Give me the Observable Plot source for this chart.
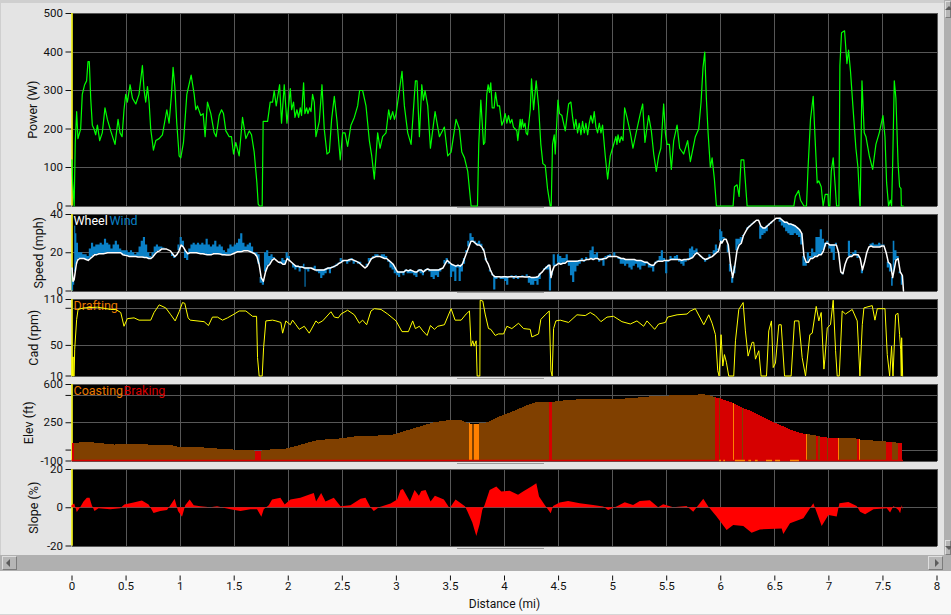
<!DOCTYPE html>
<html>
<head>
<meta charset="utf-8">
<script src="https://cdn.jsdelivr.net/npm/d3@7"></script>
<script src="https://cdn.jsdelivr.net/npm/@observablehq/plot@0.6"></script>
<style>
html,body{margin:0;padding:0;background:#f8f8f8;overflow:hidden}
#page{position:relative;width:951px;height:615px;overflow:hidden;background:#f8f8f8}
#page>div{position:absolute}
#page svg{position:absolute;left:0;top:0;overflow:visible;background:transparent}
.btn{box-sizing:border-box;border:1px solid;border-color:#dedede #7c7c7c #7c7c7c #dedede}
.tri{position:absolute;width:0;height:0;border:4px solid transparent}
</style>
</head>
<body>
<div id="page"></div>
<script>
// mile, watts
const power=[[0,120],[.006,60],[.02,0],[.03,165],[.043,245],[.055,175],[.08,200],[.095,290],[.117,315],[.135,325],[.148,375],[.16,375],[.173,280],[.188,210],[.204,200],[.219,185],[.235,210],[.256,170],[.28,190],[.305,255],[.327,225],[.358,195],[.398,160],[.426,225],[.444,190],[.463,180],[.481,250],[.497,290],[.512,270],[.537,315],[.559,280],[.59,265],[.62,290],[.651,365],[.667,300],[.682,270],[.698,310],[.713,270],[.728,200],[.753,145],[.775,170],[.806,175],[.836,185],[.877,250],[.898,215],[.92,290],[.935,360],[.951,310],[.969,215],[.991,130],[1.006,125],[1.031,165],[1.062,290],[1.102,340],[1.13,290],[1.145,250],[1.16,260],[1.191,235],[1.213,240],[1.231,180],[1.253,270],[1.284,240],[1.315,190],[1.333,180],[1.361,235],[1.383,250],[1.401,240],[1.423,195],[1.454,180],[1.475,180],[1.494,135],[1.515,165],[1.546,130],[1.577,230],[1.608,175],[1.639,195],[1.66,185],[1.685,140],[1.71,60],[1.722,5],[1.735,0],[1.759,0],[1.768,220],[1.809,220],[1.833,270],[1.855,270],[1.87,300],[1.889,260],[1.92,315],[1.938,215],[1.963,315],[1.988,215],[2.019,305],[2.031,250],[2.049,270],[2.062,230],[2.08,250],[2.096,230],[2.111,255],[2.123,235],[2.142,320],[2.154,240],[2.17,255],[2.182,240],[2.198,255],[2.21,245],[2.225,290],[2.241,270],[2.256,180],[2.287,220],[2.312,315],[2.333,200],[2.358,135],[2.38,140],[2.401,225],[2.426,285],[2.451,220],[2.481,120],[2.503,190],[2.525,190],[2.549,155],[2.58,210],[2.611,230],[2.642,260],[2.66,300],[2.688,300],[2.719,260],[2.75,170],[2.772,130],[2.796,70],[2.827,190],[2.849,150],[2.873,180],[2.904,190],[2.929,250],[2.945,225],[2.966,245],[2.982,225],[2.997,240],[3.028,300],[3.052,350],[3.074,260],[3.105,190],[3.136,160],[3.176,325],[3.191,325],[3.213,180],[3.235,315],[3.25,275],[3.265,300],[3.29,260],[3.315,150],[3.358,245],[3.398,180],[3.444,205],[3.475,130],[3.506,140],[3.552,225],[3.583,200],[3.605,140],[3.63,125],[3.66,90],[3.691,0],[3.75,0],[3.762,160],[3.781,275],[3.793,220],[3.806,160],[3.818,165],[3.836,290],[3.849,315],[3.861,295],[3.873,320],[3.886,255],[3.904,255],[3.917,295],[3.935,260],[3.954,260],[3.975,210],[3.99,220],[4.006,240],[4.022,215],[4.037,235],[4.052,215],[4.068,225],[4.083,205],[4.099,200],[4.114,195],[4.123,170],[4.145,225],[4.154,200],[4.164,225],[4.176,205],[4.19,215],[4.2,190],[4.213,185],[4.238,250],[4.25,330],[4.269,250],[4.293,325],[4.315,260],[4.336,160],[4.355,110],[4.377,105],[4.398,45],[4.423,0],[4.432,0],[4.444,160],[4.46,185],[4.469,135],[4.494,275],[4.509,240],[4.531,235],[4.562,195],[4.593,265],[4.614,270],[4.63,230],[4.645,200],[4.66,225],[4.676,190],[4.691,215],[4.707,185],[4.722,220],[4.738,190],[4.753,215],[4.769,185],[4.784,215],[4.799,235],[4.815,215],[4.83,245],[4.846,205],[4.861,190],[4.877,215],[4.892,190],[4.907,210],[4.932,130],[4.954,70],[4.978,130],[5.015,165],[5.03,180],[5.04,160],[5.05,185],[5.065,165],[5.08,180],[5.096,170],[5.111,255],[5.133,230],[5.164,190],[5.188,150],[5.225,200],[5.256,240],[5.278,265],[5.299,165],[5.333,235],[5.358,195],[5.38,135],[5.404,90],[5.426,130],[5.446,150],[5.472,265],[5.488,190],[5.503,160],[5.525,160],[5.543,95],[5.565,170],[5.596,210],[5.62,150],[5.657,135],[5.694,170],[5.719,115],[5.765,180],[5.796,200],[5.818,270],[5.836,360],[5.852,400],[5.867,280],[5.883,190],[5.904,100],[5.92,125],[5.941,70],[5.96,0],[6.114,0],[6.127,50],[6.151,55],[6.17,25],[6.188,120],[6.213,120],[6.244,0],[6.676,0],[6.69,25],[6.72,40],[6.738,15],[6.769,0],[6.793,0],[6.806,90],[6.83,225],[6.855,285],[6.87,190],[6.892,60],[6.907,65],[6.929,50],[6.947,0],[6.966,30],[6.991,30],[6.997,0],[7.009,0],[7.022,90],[7.04,125],[7.059,50],[7.071,0],[7.093,0],[7.102,365],[7.117,450],[7.145,455],[7.167,370],[7.182,405],[7.2,350],[7.222,260],[7.25,150],[7.269,100],[7.287,0],[7.29,0],[7.306,325],[7.327,190],[7.343,180],[7.374,130],[7.405,95],[7.435,160],[7.466,190],[7.5,235],[7.519,180],[7.534,60],[7.552,0],[7.568,15],[7.58,0],[7.59,110],[7.605,325],[7.62,280],[7.64,110],[7.654,50],[7.667,45],[7.67,0],[7.688,0]];
// mile, wheel mph, wind mph
const speed=[[0,12,0],[.01,5,0],[.02,6,3],[.03,10,34],[.04,14,30],[.05,16,25],[.07,17,20],[.09,17,20],[.11,17,19],[.13,16.5,19],[.15,16,18],[.17,17,22],[.19,18,25],[.21,19,23],[.23,19,24],[.25,19.5,24],[.27,19.5,25],[.29,19.5,24],[.31,19.7,27],[.33,20,25],[.35,20,24],[.37,20,22],[.39,20,24],[.41,20,26],[.43,20,24],[.45,20,22],[.47,19,21],[.49,18.7,21],[.51,18.5,21],[.53,18,20],[.55,18,21],[.57,18,20],[.59,18,19],[.61,17.8,20],[.63,17.8,23],[.65,17.8,26],[.67,17.5,28],[.69,17.5,24],[.71,17,20],[.73,17,18],[.75,18,20],[.77,19.5,23],[.79,20.5,24],[.81,21,23],[.83,22,23],[.85,22,22.5],[.87,22,22],[.89,21.5,21.5],[.91,21,21],[.93,19.5,18],[.95,18,17],[.97,19,19],[.99,21,24],[1.01,24,28],[1.03,23,26],[1.05,21,17],[1.07,19.5,16],[1.09,20,22],[1.11,20,24],[1.13,20,25],[1.15,20,24],[1.17,19.7,25],[1.19,19.5,24],[1.21,19.5,25],[1.23,19.2,24],[1.25,19,27],[1.27,19,24],[1.29,19,23],[1.31,19.5,24],[1.33,19.5,26],[1.35,19.5,23],[1.37,19.3,24],[1.39,19,23],[1.41,19,21],[1.43,18.8,20],[1.45,18.8,22],[1.47,19,24],[1.49,19.5,23],[1.51,20,24],[1.53,20.5,25],[1.55,20.5,27],[1.57,20.7,30],[1.59,21,25],[1.61,21,23],[1.63,21,24],[1.65,20.5,25],[1.67,20,23],[1.69,19.5,20],[1.71,18,20],[1.73,14,19],[1.75,7,4],[1.77,5,3],[1.79,10,20],[1.81,13,21],[1.83,14,18],[1.85,16,19],[1.87,17,17.5],[1.89,16,16],[1.91,15,15],[1.93,15,14],[1.95,14,17],[1.97,14,16],[1.99,17,20],[2.01,16,18],[2.03,15,15],[2.05,14,12],[2.07,13,11],[2.09,13,12],[2.11,12.5,10],[2.13,12.5,12],[2.15,12,14],[2.16,12,2],[2.17,12,11],[2.19,12,10],[2.21,12,12],[2.23,11.5,12],[2.25,11,13],[2.27,11,10],[2.29,11,9],[2.31,11,6.5],[2.33,11,8],[2.35,11.5,9],[2.37,12,11],[2.39,12,9],[2.41,12.5,12],[2.43,13,12],[2.45,13.5,14],[2.47,14.5,14],[2.49,15,17],[2.51,16,15],[2.53,16,16],[2.55,16,14],[2.57,16.5,15],[2.59,16.5,17],[2.61,16,14],[2.63,15.5,15],[2.65,15,14],[2.67,14,15],[2.69,13,13],[2.71,12,12],[2.73,13,14],[2.75,15,17],[2.77,17,16],[2.79,17.5,18],[2.81,18,19],[2.83,18,19],[2.85,18,18],[2.87,17.5,19],[2.89,17,19],[2.91,17,18],[2.93,16,15],[2.95,15,12],[2.97,14,11],[2.99,12,9],[3.01,10,8],[3.03,10,7],[3.05,10,9],[3.07,10,8],[3.09,11,10],[3.11,10.5,9],[3.13,11,9],[3.15,10.5,9],[3.17,10,8],[3.19,10,7],[3.21,11,10],[3.23,11,9],[3.25,10,8],[3.27,11,10],[3.29,11.5,11],[3.31,11,10],[3.33,11,7],[3.35,11,6],[3.37,11,8],[3.39,11,7],[3.41,11.5,10],[3.43,12,12],[3.45,14,16],[3.47,16,17],[3.49,15,14],[3.51,14,7],[3.53,13.5,10],[3.55,13,5],[3.57,13.5,12],[3.59,13,5],[3.61,14,10],[3.63,17,14],[3.65,20,21],[3.67,23,26],[3.69,26,30],[3.71,26,28],[3.73,25,26],[3.75,24,25],[3.77,24,26],[3.79,23,24.5],[3.81,21,22],[3.83,16,17],[3.85,14,14],[3.87,11,10],[3.89,8.5,8],[3.91,7.5,.5],[3.93,7.5,6],[3.95,7.5,7],[3.97,7.3,6],[3.99,7.5,6],[4.01,7.5,5],[4.03,7.3,3],[4.05,7.5,7],[4.07,7.5,8],[4.09,7.5,6],[4.11,7.3,8],[4.13,7.5,6],[4.15,7.5,7],[4.17,7.5,8],[4.19,7.3,7],[4.21,7.3,8.5],[4.23,7.5,4],[4.25,7,3],[4.27,7,3],[4.29,7.2,5],[4.31,7.5,3],[4.33,9,6],[4.35,10,10],[4.37,11.5,11],[4.39,12.5,11],[4.41,13.5,11],[4.42,13.5,0],[4.43,7,0],[4.44,10,8],[4.46,13,19],[4.48,13.5,14],[4.5,14.5,19],[4.52,14,18],[4.54,14.5,17],[4.56,14.5,17],[4.58,15.5,19],[4.6,15.5,13],[4.62,15.5,8],[4.64,15.5,4.5],[4.66,15.5,10],[4.68,15.7,13],[4.7,16,14],[4.72,16,17],[4.74,16,15],[4.76,16.5,17.5],[4.78,16.5,16],[4.8,17,21],[4.82,16.5,23],[4.84,17,19],[4.86,17,20],[4.88,16.5,15],[4.9,16.5,17],[4.92,17,13],[4.94,17,18],[4.96,18,18.5],[4.98,18,19],[5,18,18],[5.02,18,20],[5.04,18,18],[5.06,17.5,16.5],[5.08,17,14],[5.1,17,14],[5.12,16.5,13],[5.14,16.5,14],[5.16,16.5,12],[5.18,16.5,11],[5.2,16.5,13],[5.22,16,14],[5.24,16,12],[5.26,16,11],[5.28,15.5,13],[5.3,15,13],[5.32,15,14],[5.34,14,12],[5.36,13.5,12],[5.38,13.5,10],[5.4,15,14],[5.42,15.5,16],[5.44,15.5,18],[5.46,15.5,21],[5.48,16,17],[5.5,16,9],[5.52,16,15],[5.54,16.5,18],[5.56,16.5,17],[5.58,16.5,18],[5.6,16.5,18.5],[5.62,16.5,15],[5.64,16,14],[5.66,16.5,13],[5.68,16.5,15],[5.7,16.5,17],[5.72,17,22],[5.74,17.5,23],[5.76,19,21],[5.78,20,22],[5.8,19,19],[5.82,18,17.5],[5.84,17,16.5],[5.86,16.5,15],[5.88,17,16],[5.9,17.5,19],[5.92,18,18],[5.94,19,21],[5.96,20,24],[5.98,21,22],[6,26,32],[6.01,25,31],[6.03,27,28],[6.05,27,27],[6.07,24,20],[6.09,14,10],[6.11,7,4],[6.13,13,9],[6.15,21,27],[6.17,24,27],[6.19,25,28],[6.21,29,28.5],[6.23,31,31],[6.25,33,32],[6.27,34,33.5],[6.29,35,34.5],[6.31,36,35.5],[6.33,37,37],[6.35,37,37],[6.37,34,27],[6.39,33,29],[6.41,33,30],[6.43,34,31],[6.45,35,34],[6.47,36,35],[6.49,37,37],[6.51,38,38],[6.53,38,38],[6.55,38,36],[6.57,37,34],[6.59,36,33],[6.61,36,31],[6.63,35,30],[6.65,35,29],[6.67,34.5,29],[6.69,34,30],[6.71,33,29],[6.73,32,28],[6.75,30,24],[6.77,18,13],[6.79,15,13],[6.81,15,20],[6.83,17,18],[6.85,17,22],[6.87,18,20],[6.89,18,28],[6.91,19,28],[6.93,19,32],[6.95,21,27],[6.97,25,23],[6.99,25,26],[7.01,24,22],[7.03,24,20],[7.05,24,16],[7.07,24,25],[7.09,20,20],[7.11,10,10],[7.13,9,8.5],[7.15,14,14],[7.17,17,17],[7.19,18,26],[7.21,18,19],[7.23,19,20],[7.25,19,21],[7.27,19,17],[7.29,17,17],[7.31,11,9],[7.33,15,15],[7.35,20,20],[7.37,23,23],[7.39,23.5,24.5],[7.41,23,25],[7.43,23,24],[7.45,23,24],[7.47,23,25],[7.49,23.5,24],[7.51,23.5,24],[7.53,20,20],[7.55,15,12],[7.57,14,10],[7.59,7,2.5],[7.6,10,26],[7.62,16,21],[7.64,17,18],[7.66,10,9],[7.68,8,3],[7.69,0,0]];
// mile, rpm
const cadence=[[0,10],[.003,35],[.006,10],[.01,35],[.013,10],[.02,10],[.025,45],[.043,84],[.056,97],[.111,99],[.235,100],[.358,97],[.404,97],[.451,93],[.481,75],[.512,85],[.574,86],[.62,83],[.728,83],[.759,93],[.806,103],[.867,99],[.914,90],[.954,82],[.991,94],[1.022,106],[1.043,105],[1.074,86],[1.093,83],[1.222,81],[1.262,76],[1.299,87],[1.346,87],[1.392,83],[1.438,86],[1.5,91],[1.546,95],[1.608,95],[1.67,88],[1.707,88],[1.716,34],[1.731,10],[1.759,10],[1.772,47],[1.793,82],[1.855,83],[1.886,82],[1.932,80],[1.948,66],[1.978,82],[2.019,77],[2.04,83],[2.071,77],[2.102,71],[2.148,75],[2.194,66],[2.256,82],[2.278,79],[2.318,82],[2.395,94],[2.426,87],[2.463,86],[2.488,91],[2.549,96],[2.611,90],[2.657,79],[2.688,83],[2.725,77],[2.765,95],[2.796,98],[2.858,97],[2.92,91],[2.997,82],[3.052,68],[3.111,68],[3.151,82],[3.176,72],[3.213,75],[3.244,69],[3.284,63],[3.315,76],[3.352,71],[3.383,75],[3.444,77],[3.506,98],[3.543,83],[3.599,83],[3.645,91],[3.676,95],[3.691,49],[3.707,56],[3.719,49],[3.738,56],[3.747,10],[3.772,10],[3.775,109],[3.799,108],[3.821,91],[3.852,72],[3.873,71],[3.914,63],[3.944,65],[3.991,65],[4.022,75],[4.068,72],[4.13,79],[4.176,72],[4.238,71],[4.253,61],[4.315,65],[4.336,84],[4.377,90],[4.414,95],[4.429,17],[4.441,10],[4.454,72],[4.475,82],[4.515,83],[4.593,80],[4.67,90],[4.747,89],[4.793,93],[4.84,89],[4.892,81],[4.948,87],[5.009,88],[5.086,81],[5.164,78],[5.225,82],[5.287,75],[5.318,82],[5.389,71],[5.426,78],[5.488,80],[5.509,87],[5.596,90],[5.688,91],[5.719,95],[5.765,98],[5.843,77],[5.889,90],[5.92,79],[5.951,64],[5.972,17],[5.985,10],[6.003,64],[6.019,23],[6.034,38],[6.052,28],[6.074,10],[6.12,10],[6.136,56],[6.167,97],[6.207,106],[6.228,69],[6.253,36],[6.29,54],[6.305,54],[6.321,32],[6.352,43],[6.373,10],[6.423,10],[6.444,69],[6.469,82],[6.485,21],[6.506,27],[6.537,77],[6.559,77],[6.59,10],[6.651,10],[6.682,82],[6.722,82],[6.753,34],[6.784,10],[6.824,64],[6.846,66],[6.883,101],[6.907,82],[6.929,93],[6.954,19],[6.963,32],[6.985,73],[7.015,77],[7.04,109],[7.062,43],[7.077,10],[7.096,10],[7.123,95],[7.154,91],[7.216,97],[7.262,82],[7.287,10],[7.309,77],[7.324,99],[7.401,102],[7.426,83],[7.448,98],[7.519,98],[7.54,38],[7.562,10],[7.58,49],[7.593,10],[7.617,90],[7.639,92],[7.654,64],[7.664,45],[7.67,10],[7.673,60],[7.682,10]];
// mile where a stretch starts, feet, state (0 pedalling, 1 braking, 2 coasting)
const elevation=[[0,60,1],[.02,62,0],[.1,66,0],[.15,72,0],[.25,60,0],[.4,46,0],[.5,52,0],[.6,55,0],[.72,45,0],[.9,45,0],[.98,28,0],[1.13,28,0],[1.25,16,0],[1.5,0,0],[1.7,-9,1],[1.757,-9,0],[1.86,3,0],[1.99,10,0],[2.05,25,0],[2.1,40,0],[2.18,62,0],[2.26,83,0],[2.34,92,0],[2.42,100,0],[2.5,102,0],[2.58,115,0],[2.66,125,0],[2.8,128,0],[2.95,131,0],[3,145,0],[3.05,159,0],[3.1,175,0],[3.15,190,0],[3.2,205,0],[3.25,220,0],[3.3,235,0],[3.35,250,0],[3.42,260,0],[3.5,270,0],[3.6,274,0],[3.65,245,0],[3.68,241,2],[3.7,235,0],[3.72,232,2],[3.765,238,0],[3.85,250,0],[3.9,275,0],[3.95,300,0],[4,320,0],[4.05,338,0],[4.1,356,0],[4.15,380,0],[4.2,400,0],[4.25,420,0],[4.3,433,0],[4.42,433,1],[4.44,434,0],[4.5,445,0],[4.6,454,0],[4.7,460,0],[4.8,466,0],[5,460,0],[5.1,466,0],[5.2,472,0],[5.3,484,0],[5.4,488,0],[5.55,496,0],[5.7,502,0],[5.85,505,0],[5.9,495,0],[5.955,478,1],[5.986,470,0],[5.995,470,1],[6.05,450,1],[6.117,427,2],[6.126,425,1],[6.15,410,1],[6.2,385,0],[6.21,380,1],[6.25,365,1],[6.3,347,1],[6.35,320,1],[6.4,295,1],[6.45,272,1],[6.5,248,1],[6.55,226,1],[6.6,205,1],[6.65,183,1],[6.7,165,1],[6.75,150,1],[6.79,144,2],[6.8,144,0],[6.885,128,1],[6.9,126,0],[6.92,120,1],[6.99,110,0],[7,110,1],[7.03,107,1],[7.09,107,2],[7.1,107,0],[7.2,108,0],[7.265,100,1],[7.283,95,2],[7.29,92,0],[7.4,84,0],[7.53,74,1],[7.56,72,1],[7.585,72,0],[7.64,62,1],[7.685,62,1]];
// stretches of coasting along the floor of the elevation panel
const coastStart=[5.989,6.028,6.136,6.26,6.321,6.423,6.507,6.645];
const coastEnd=[6.007,6.044,6.229,6.285,6.346,6.479,6.553,6.728];
// mile, percent
const slope=[[0,1],[.025,2],[.049,-2.5],[.08,0],[.111,3],[.142,5],[.167,5],[.188,1],[.213,-2],[.25,-.5],[.358,-1],[.451,-.5],[.488,1.5],[.574,2.5],[.651,3.5],[.713,1.5],[.759,-3],[.821,-2],[.883,-1.5],[.914,1],[.954,4.5],[.985,-2],[1.022,-5],[1.052,1],[1.093,4],[1.13,1],[1.191,.5],[1.284,0],[1.346,.5],[1.469,-1],[1.562,-2],[1.654,-1],[1.716,-1],[1.756,-5],[1.778,-1],[1.824,1],[1.855,4],[1.932,5],[1.972,1.5],[2.025,4],[2.117,5],[2.194,6.5],[2.241,7.5],[2.262,3],[2.309,7.5],[2.349,3],[2.426,5],[2.488,.5],[2.58,1],[2.673,4.5],[2.719,5],[2.765,0],[2.796,-2],[2.843,0],[2.951,2],[3.012,4],[3.043,9],[3.065,9.5],[3.13,3],[3.173,9],[3.213,6],[3.235,8.5],[3.275,9],[3.321,3],[3.361,6],[3.444,4],[3.497,-.5],[3.552,4],[3.639,.5],[3.66,-2],[3.707,-8],[3.744,-15],[3.775,-8.8],[3.799,-1.4],[3.821,1.2],[3.867,9],[3.929,10.9],[3.975,8.2],[4.052,8.6],[4.13,6.5],[4.176,8.2],[4.253,10.9],[4.299,12.6],[4.324,5.6],[4.377,1.2],[4.432,-3.2],[4.454,.7],[4.515,2.5],[4.593,3.3],[4.701,2.1],[4.824,1.2],[4.917,.4],[4.963,-1.4],[5.04,.4],[5.117,2.6],[5.194,1.2],[5.256,3.3],[5.349,3.7],[5.426,0],[5.472,1.6],[5.565,0],[5.688,.7],[5.75,-2.3],[5.843,4.4],[5.889,.4],[5.966,-4.9],[6.059,-11.9],[6.12,-9.3],[6.213,-9.8],[6.29,-13.3],[6.367,-11.6],[6.568,-11.1],[6.583,-14],[6.645,-8.4],[6.769,-5.8],[6.861,2.1],[6.938,-9.8],[7,-4],[7.077,-4.9],[7.102,2.1],[7.185,2.8],[7.262,.7],[7.293,-2.3],[7.34,-3.7],[7.417,-1],[7.54,-.5],[7.571,-2.8],[7.602,.7],[7.648,-1.4],[7.664,-3.2],[7.679,1.2],[7.688,-1.4]];
const xTicks=[0,.5,1,1.5,2,2.5,3,3.5,4,4.5,5,5.5,6,6.5,7,7.5,8];

const page=document.getElementById("page");
const FONT="Roboto, sans-serif";
const GRID="#575757";
function chrome(l,t,w,h,bg,cls){const d=document.createElement("div");d.style.cssText=`left:${l}px;top:${t}px;width:${w}px;height:${h}px;background:${bg}`;if(cls)d.className=cls;page.appendChild(d);return d;}
function tri(box,side,l,t){const s=document.createElement("div");s.className="tri";s.style.left=l+"px";s.style.top=t+"px";s.style["border"+side+"Color"]="#5c5c5c";box.appendChild(s);}
chrome(0,0,951,555,"#e4e4e4");
chrome(0,0,951,3,"#cfcfcf");
chrome(0,0,1,555,"#cfcfcf");
chrome(944,0,7,571,"#b0b0b0");
chrome(0,555,951,16,"#b0b0b0");
chrome(0,614,951,1,"#d6d6d6");
tri(chrome(2,556,15,14,"#b6b6b6","btn"),"Right",-1,2);
tri(chrome(928,556,15,14,"#b6b6b6","btn"),"Left",6,2);
tri(chrome(945,1,6,17,"#b6b6b6","btn"),"Bottom",-1,0);
tri(chrome(945,540,6,15,"#b6b6b6","btn"),"Top",-1,5);
[207,292,378,462.5,547.5].forEach(t=>chrome(457,t,87,1,"#9a9a9a"));

const M=10;
function panel({top,bottom,domain,ticks,labelled,label,offset,marks}){
  const h=bottom-top;
  const p=Plot.plot({
    width:951,height:h+2*M,
    marginLeft:71.5,marginRight:14.5,marginTop:M,marginBottom:M,
    style:{fontFamily:FONT,fontSize:"11.5px",color:"#111",background:"transparent",overflow:"visible"},
    x:{domain:[0,8],axis:null},
    y:{domain,axis:null},
    color:{type:"identity"},
    marks:[
      Plot.frame({fill:"black",stroke:null}),
      Plot.ruleX(xTicks,{stroke:GRID,strokeWidth:1,shapeRendering:"crispEdges"}),
      Plot.ruleY(ticks,{stroke:GRID,strokeWidth:1,shapeRendering:"crispEdges"}),
      Plot.axisY({ticks,tickSize:6,tickPadding:3,tickFormat:d=>labelled.includes(d)?String(d):"",label:null,stroke:"#111",color:"#111"}),
      Plot.text([label],{frameAnchor:"left",textAnchor:"middle",rotate:-90,dx:-offset,fill:"#111",fontSize:12.5,fontFamily:FONT}),
      Plot.ruleX([0],{stroke:"#f0f000",strokeWidth:1.5}),
      ...marks
    ]
  });
  const d=document.createElement("div");
  d.style.cssText=`left:0;top:${top-M}px;width:951px;height:${h+2*M}px`;
  d.appendChild(p);page.appendChild(d);
}
const tx=(s,dx,fill)=>Plot.text([s],{frameAnchor:"top-left",dx,dy:2,fill,fontSize:12.5,fontFamily:FONT,textAnchor:"start"});
const elevSegs=elevation.slice(0,-1).flatMap((d,i)=>[{x:d[0],y:d[1],i,s:d[2]},{x:elevation[i+1][0],y:elevation[i+1][1],i,s:d[2]}]);

panel({top:12.5,bottom:205,domain:[0,500],ticks:[0,100,200,300,400,500],labelled:[0,100,200,300,400,500],label:"Power (W)",offset:39.5,marks:[
  Plot.line(power,{x:d=>d[0],y:d=>d[1],stroke:"#00ff00",strokeWidth:1.2})
]});
panel({top:213.5,bottom:290,domain:[0,40],ticks:[0,20,40],labelled:[0,20,40],label:"Speed (mph)",offset:33.5,marks:[
  Plot.areaY(speed,{x:d=>d[0],y1:d=>d[2],y2:d=>d[1],fill:"#0a80c6",curve:"step"}),
  Plot.line(speed,{x:d=>d[0],y:d=>d[1],stroke:"white",strokeWidth:1.5}),
  tx("Wheel",1.5,"#ffffff"),tx("Wind",37.5,"#0a80c6")
]});
panel({top:298.5,bottom:375,domain:[10,110],ticks:[10,50,98.5,110],labelled:[10,50,110],label:"Cad (rpm)",offset:38.5,marks:[
  tx("Drafting",1.5,"#e87800"),
  Plot.line(cadence,{x:d=>d[0],y:d=>d[1],stroke:"#ffff00",strokeWidth:1})
]});
panel({top:383.5,bottom:460,domain:[-100,600],ticks:[-100,0,250,500,600],labelled:[-100,250,600],label:"Elev (ft)",offset:43.5,marks:[
  Plot.areaY(elevSegs,{x:"x",y1:-100,y2:"y",z:"i",fill:d=>["#804000","#d60000","#ff8000"][d.s],shapeRendering:"crispEdges"}),
  Plot.ruleY([-100],{x1:0,x2:7.69,stroke:"#d60000",strokeWidth:1.5,dy:-.5}),
  Plot.ruleY(coastStart,{x1:d=>d,x2:(d,i)=>coastEnd[i],y:-100,stroke:"#ff8000",strokeWidth:1.5,dy:-.5}),
  tx("Coasting",1.5,"#e87800"),tx("Braking",51.5,"#d60000")
]});
panel({top:468.5,bottom:545,domain:[-20,20],ticks:[-20,0,20],labelled:[-20,0,20],label:"Slope (%)",offset:38.5,marks:[
  Plot.areaY(slope,{x:d=>d[0],y1:0,y2:d=>d[1],fill:"#ff0000"})
]});
// distance axis
{
  const p=Plot.plot({
    width:951,height:44,marginLeft:71.5,marginRight:14.5,marginTop:0,marginBottom:38.5,
    style:{fontFamily:FONT,fontSize:"11.5px",background:"transparent",overflow:"visible"},
    x:{domain:[0,8],axis:null},y:{axis:null},
    marks:[
      Plot.axisX(xTicks,{anchor:"bottom",tickSize:5,tickPadding:1,tickFormat:d=>String(d),label:null,stroke:"#111",color:"#111"}),
      Plot.text(["Distance (mi)"],{x:()=>4,frameAnchor:"bottom",dy:32,fill:"#111",fontSize:12,fontFamily:FONT})
    ]
  });
  const d=document.createElement("div");
  d.style.cssText="left:0;top:570px;width:951px;height:44px";
  d.appendChild(p);page.appendChild(d);
}
</script>
</body>
</html>
